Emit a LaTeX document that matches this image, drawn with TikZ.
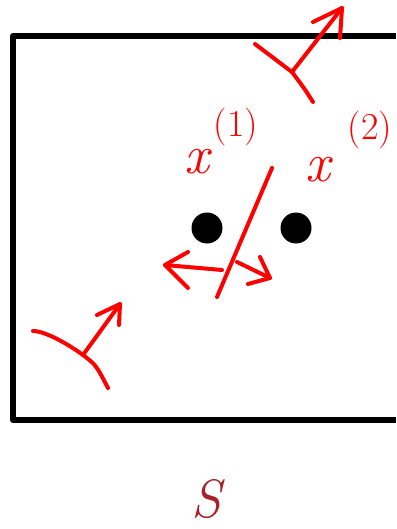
\documentclass[tikz,border=0pt]{standalone}
\usepackage{fontspec}
\usepackage{xcolor}
\definecolor{penred}{RGB}{255,0,0}
\definecolor{sred}{RGB}{168,32,40}
\tikzset{
  frame/.style={line width=6pt, line join=round, black},
  pen/.style={line width=4pt, line cap=round, line join=round, penred},
  dot/.style={circle, fill=black, inner sep=0pt, minimum size=31pt},
  bigx/.style={text=penred, inner sep=0pt, font=\fontsize{55}{55}\selectfont\itshape},
  supx/.style={text=penred, inner sep=0pt, font=\fontsize{38}{38}\selectfont},
}
\begin{document}
\begin{tikzpicture}[x=1pt,y=-1pt]
\useasboundingbox (0,0) rectangle (396,529);
% frame (open to the right)
\draw[frame] (396,36) -- (13,36) -- (13,420) -- (396,420);
% particles
\node[dot] (d1) at (207,228) {};
\node[dot] (d2) at (296,228) {};
% labels
\node[bigx] (x1) at (197,162) {x};
\node[supx] (s1) at (236,127) {(1)};
\node[bigx] (x2) at (318,170) {x};
\node[supx] (s2) at (370,130) {(2)};
% top frame sketch
\coordinate (ta) at (255,44);
\coordinate (tb) at (292,72);
\coordinate (tc) at (313,102);
\coordinate (th) at (342,8);
\draw[pen] (ta) -- (tb) .. controls (304,88) .. (tc);
\draw[pen] (tb) -- (th);
\draw[pen] (313,22) -- (th) -- (340,38);
% separating line
\coordinate (ma) at (272,168);
\coordinate (mb) at (217,297);
\draw[pen] (ma) -- (mb);
% left arrow
\coordinate (la) at (222,270);
\coordinate (lh) at (165,265);
\draw[pen] (la) -- (lh);
\draw[pen] (188,252) -- (lh) -- (188,288);
% right arrow
\coordinate (ra) at (237,262);
\coordinate (rh) at (270,278);
\draw[pen] (ra) -- (rh);
\draw[pen] (260,257) -- (rh) -- (248,284);
% bottom-left frame sketch
\coordinate (ba) at (33,331);
\coordinate (bb) at (83,355);
\coordinate (bc) at (108,388);
\coordinate (bh) at (120,304);
\draw[pen] (ba) .. controls (45,331) and (68,344) .. (bb) .. controls (96,365) .. (bc);
\draw[pen] (bb) -- (bh);
\draw[pen] (97,315) -- (bh) -- (119,325);
% label S
\node[text=sred, inner sep=0pt, font=\fontsize{54}{54}\selectfont\itshape] (S) at (206,499) {S};
\end{tikzpicture}
\end{document}
